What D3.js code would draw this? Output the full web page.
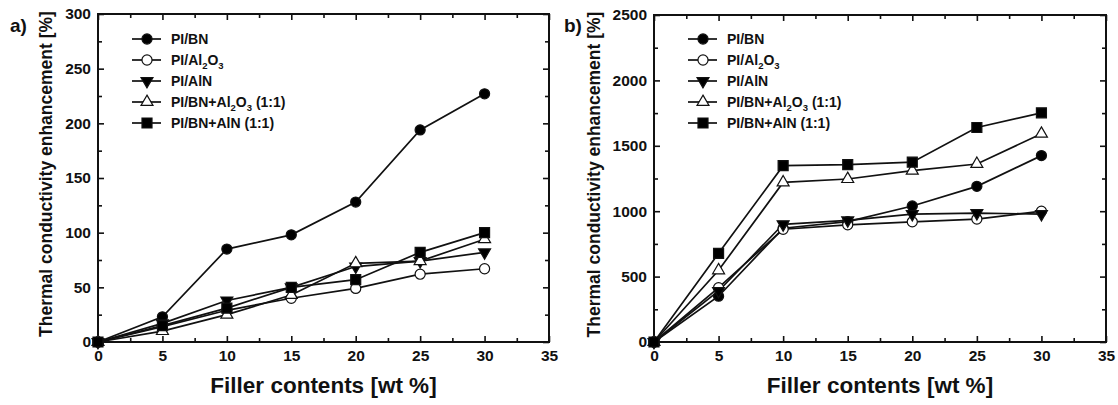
<!DOCTYPE html>
<html>
<head>
<meta charset="utf-8">
<script src="https://cdn.jsdelivr.net/npm/d3@7"></script>
<style>
  html, body { margin: 0; padding: 0; background: #fff; }
  svg { display: block; }
  text { font-family: "Liberation Sans", Arial, sans-serif; font-weight: bold; fill: #111; }
</style>
</head>
<body>
<svg id="chart" width="1118" height="405"></svg>
<script>
// ---------------- data ----------------
const xValues = [0, 5, 10, 15, 20, 25, 30];
const xTicks = [0, 5, 10, 15, 20, 25, 30, 35];
const xMinorTicks = [2.5, 7.5, 12.5, 17.5, 22.5, 27.5, 32.5];

const seriesKeys = ["PI/BN", "PI/Al2O3", "PI/AlN", "PI/BN+Al2O3 (1:1)", "PI/BN+AlN (1:1)"];

// panel a
const aPIBN      = [0, 23, 85, 98, 128, 194, 227];
const aPIAl2O3   = [0, 14, 29, 40, 49, 62, 67];
const aPIAlN     = [0, 17, 38, 50, 69, 74, 82];
const aBNAl2O3   = [0, 10, 25, 43, 72, 74, 94];
const aBNAlN     = [0, 15, 31, 50, 57, 82, 100];
const yTicksA = [0, 50, 100, 150, 200, 250, 300];
const yMinorA = [25, 75, 125, 175, 225, 275];

// panel b
const bPIBN      = [0, 350, 870, 920, 1040, 1190, 1425];
const bPIAl2O3   = [0, 415, 862, 896, 919, 940, 1000];
const bPIAlN     = [0, 390, 900, 930, 978, 985, 978];
const bBNAl2O3   = [0, 548, 1220, 1246, 1310, 1361, 1592];
const bBNAlN     = [0, 678, 1348, 1356, 1375, 1640, 1752];
const yTicksB = [0, 500, 1000, 1500, 2000, 2500];
const yMinorB = [250, 750, 1250, 1750, 2250];

// ---------------- drawing ----------------
const svg = d3.select("#chart");

const markerStyles = [
  { type: d3.symbolCircle,   size: 80,  fill: "#000", rot: 0 },
  { type: d3.symbolCircle,   size: 80,  fill: "#fff", rot: 0 },
  { type: d3.symbolTriangle, size: 62,  fill: "#000", rot: 180 },
  { type: d3.symbolTriangle, size: 62,  fill: "#fff", rot: 0 },
  { type: d3.symbolSquare,   size: 100, fill: "#000", rot: 0 }
];

function legendLabel(sel, key) {
  // render subscripts for Al2O3
  const parts = key.split(/(Al2O3)/);
  let shift = 0;
  parts.forEach(p => {
    if (p === "Al2O3") {
      sel.append("tspan").text("Al").attr("dy", -shift);
      sel.append("tspan").text("2").attr("font-size", "9.5px").attr("dy", 4);
      sel.append("tspan").text("O").attr("dy", -4);
      sel.append("tspan").text("3").attr("font-size", "9.5px").attr("dy", 4);
      shift = 4;
    } else if (p.length) {
      sel.append("tspan").text(p).attr("dy", -shift);
      shift = 0;
    }
  });
}

function drawPanel(opt) {
  const { left, right, top, bottom, yMax, yTicks, yMinor, series, label, labelX, titleX } = opt;
  const x = d3.scaleLinear().domain([0, 35]).range([left, right]);
  const y = d3.scaleLinear().domain([0, yMax]).range([bottom, top]);
  const g = svg.append("g");

  // frame
  g.append("rect").attr("x", left).attr("y", top)
    .attr("width", right - left).attr("height", bottom - top)
    .attr("fill", "none").attr("stroke", "#111").attr("stroke-width", 2);

  const styleAxis = a => {
    a.select(".domain").remove();
    a.selectAll(".tick line").attr("stroke", "#111").attr("stroke-width", 1.6);
    a.selectAll(".tick text").style("font-family", "'Liberation Sans', Arial, sans-serif")
      .style("font-weight", "bold").style("font-size", "15.5px").attr("fill", "#111");
  };

  // bottom axis with labels
  g.append("g").attr("transform", `translate(0,${bottom})`)
    .call(d3.axisBottom(x).tickValues(xTicks).tickSize(-6).tickPadding(8).tickFormat(d3.format("d")))
    .call(styleAxis);
  g.append("g").attr("transform", `translate(0,${bottom})`)
    .call(d3.axisBottom(x).tickValues(xMinorTicks).tickSize(-4).tickFormat(""))
    .call(styleAxis);
  // top axis
  g.append("g").attr("transform", `translate(0,${top})`)
    .call(d3.axisTop(x).tickValues(xTicks).tickSize(-6).tickFormat(""))
    .call(styleAxis);
  g.append("g").attr("transform", `translate(0,${top})`)
    .call(d3.axisTop(x).tickValues(xMinorTicks).tickSize(-4).tickFormat(""))
    .call(styleAxis);
  // left axis
  g.append("g").attr("transform", `translate(${left},0)`)
    .call(d3.axisLeft(y).tickValues(yTicks).tickSize(-6).tickPadding(7).tickFormat(d3.format("d")))
    .call(styleAxis);
  g.append("g").attr("transform", `translate(${left},0)`)
    .call(d3.axisLeft(y).tickValues(yMinor).tickSize(-4).tickFormat(""))
    .call(styleAxis);
  // right axis
  g.append("g").attr("transform", `translate(${right},0)`)
    .call(d3.axisRight(y).tickValues(yTicks).tickSize(-6).tickFormat(""))
    .call(styleAxis);
  g.append("g").attr("transform", `translate(${right},0)`)
    .call(d3.axisRight(y).tickValues(yMinor).tickSize(-4).tickFormat(""))
    .call(styleAxis);

  // lines
  const line = d3.line().x((d, i) => x(xValues[i])).y(d => y(d));
  series.forEach((vals, si) => {
    g.append("path").datum(vals).attr("d", line)
      .attr("fill", "none").attr("stroke", "#111").attr("stroke-width", 1.7);
  });
  // markers
  series.forEach((vals, si) => {
    const ms = markerStyles[si];
    g.selectAll(null).data(vals).enter().append("path")
      .attr("d", d3.symbol().type(ms.type).size(ms.size))
      .attr("transform", (d, i) => `translate(${x(xValues[i])},${y(d)}) rotate(${ms.rot})`)
      .attr("fill", ms.fill).attr("stroke", "#111").attr("stroke-width", 1.2);
  });

  // legend
  const lx0 = left + 34, lx1 = left + 63, lm = left + 49, lt = left + 73;
  seriesKeys.forEach((key, si) => {
    const ly = 39 + si * 21;
    const ms = markerStyles[si];
    g.append("line").attr("x1", lx0).attr("x2", lx1).attr("y1", ly).attr("y2", ly)
      .attr("stroke", "#111").attr("stroke-width", 1.7);
    g.append("path").attr("d", d3.symbol().type(ms.type).size(ms.size))
      .attr("transform", `translate(${lm},${ly}) rotate(${ms.rot})`)
      .attr("fill", ms.fill).attr("stroke", "#111").attr("stroke-width", 1.2);
    const t = g.append("text").attr("x", lt).attr("y", ly + 5).attr("font-size", "14px");
    legendLabel(t, key);
  });

  // axis titles
  g.append("text").attr("x", (left + right) / 2).attr("y", 393)
    .attr("text-anchor", "middle").attr("font-size", "22.5px")
    .text("Filler contents [wt %]");
  g.append("text")
    .attr("transform", `translate(${titleX},${(top + bottom) / 2 - 4}) rotate(-90)`)
    .attr("text-anchor", "middle").attr("font-size", "17.5px")
    .text("Thermal conductivity enhancement [%]");
  // panel label
  g.append("text").attr("x", labelX).attr("y", 32).attr("font-size", "19px").text(label);
}

drawPanel({
  left: 98, right: 549, top: 14, bottom: 342, yMax: 300,
  yTicks: yTicksA, yMinor: yMinorA,
  series: [aPIBN, aPIAl2O3, aPIAlN, aBNAl2O3, aBNAlN],
  label: "a)", labelX: 10, titleX: 52
});
drawPanel({
  left: 654, right: 1106, top: 15, bottom: 342, yMax: 2500,
  yTicks: yTicksB, yMinor: yMinorB,
  series: [bPIBN, bPIAl2O3, bPIAlN, bBNAl2O3, bBNAlN],
  label: "b)", labelX: 564, titleX: 600
});
</script>
</body>
</html>
